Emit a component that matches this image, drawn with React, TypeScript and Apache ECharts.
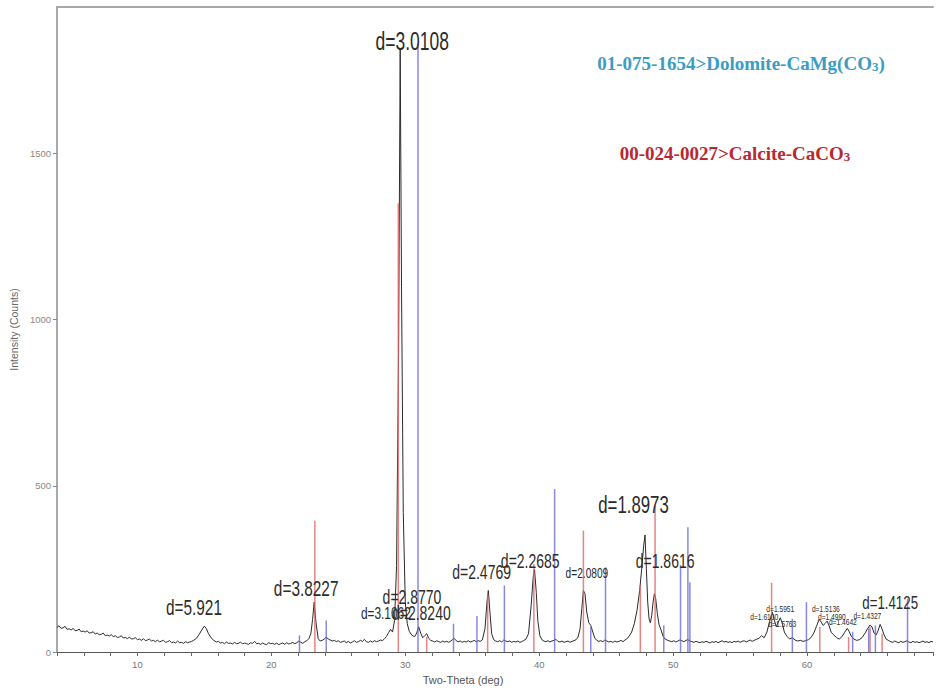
import React, { useEffect, useRef } from "react";
import * as echarts from "echarts";

// Measured XRD pattern: [2-theta (deg), intensity (counts)]
const spectrum: [number, number][] = [
  [4.0, 74], [4.15, 79], [4.3, 71], [4.45, 73], [4.6, 77], [4.75, 68], [4.9, 70], [5.05, 66], [5.2, 71], [5.35, 64],
  [5.5, 65], [5.65, 69], [5.8, 61], [5.95, 63], [6.1, 60], [6.25, 64], [6.4, 57], [6.55, 58], [6.7, 61], [6.85, 54],
  [7.0, 57], [7.15, 52], [7.3, 53], [7.45, 57], [7.6, 49], [7.75, 51], [7.9, 48], [8.05, 52], [8.2, 46], [8.35, 49],
  [8.5, 44], [8.65, 45], [8.8, 49], [8.95, 42], [9.1, 44], [9.25, 40], [9.4, 45], [9.55, 39], [9.7, 40], [9.85, 43],
  [10.0, 37], [10.15, 39], [10.3, 35], [10.45, 40], [10.6, 34], [10.75, 36], [10.9, 39], [11.05, 33], [11.2, 35], [11.35, 31],
  [11.5, 36], [11.65, 30], [11.8, 33], [11.95, 35], [12.1, 29], [12.25, 31], [12.4, 34], [12.55, 28], [12.7, 30], [12.85, 27],
  [13.0, 33], [13.15, 28], [13.3, 29], [13.45, 26], [13.6, 31], [13.75, 28], [13.9, 30], [14.05, 32], [14.2, 35], [14.4, 41],
  [14.6, 52], [14.8, 66], [15.0, 78], [15.15, 70], [15.3, 56], [15.5, 43], [15.7, 35], [15.9, 30], [16.05, 32], [16.2, 27],
  [16.35, 29], [16.5, 25], [16.65, 30], [16.8, 26], [16.95, 27], [17.1, 24], [17.25, 29], [17.4, 25], [17.55, 26], [17.7, 30],
  [17.85, 24], [18.0, 27], [18.15, 25], [18.3, 23], [18.45, 28], [18.6, 26], [18.75, 32], [18.9, 25], [19.05, 26], [19.2, 23],
  [19.35, 27], [19.5, 24], [19.65, 22], [19.8, 28], [19.95, 25], [20.1, 26], [20.25, 23], [20.4, 27], [20.55, 22], [20.7, 25],
  [20.85, 27], [21.0, 23], [21.15, 28], [21.3, 24], [21.45, 26], [21.6, 29], [21.75, 25], [21.9, 28], [22.05, 33], [22.2, 29],
  [22.35, 26], [22.5, 31], [22.65, 34], [22.8, 40], [22.95, 55], [23.08, 98], [23.2, 150], [23.33, 90], [23.5, 40], [23.65, 33],
  [23.8, 35], [23.95, 39], [24.1, 45], [24.25, 39], [24.4, 36], [24.55, 33], [24.7, 35], [24.85, 31], [25.0, 34], [25.15, 29],
  [25.3, 31], [25.45, 33], [25.6, 28], [25.75, 32], [25.9, 27], [26.05, 30], [26.2, 34], [26.35, 29], [26.5, 31], [26.65, 35],
  [26.8, 32], [26.95, 38], [27.1, 31], [27.25, 29], [27.4, 33], [27.55, 30], [27.7, 34], [27.85, 31], [28.0, 33], [28.15, 36],
  [28.3, 34], [28.45, 40], [28.6, 47], [28.75, 58], [28.9, 68], [29.05, 60], [29.2, 95], [29.35, 260], [29.5, 900], [29.62, 1811],
  [29.72, 1100], [29.85, 420], [30.0, 150], [30.15, 85], [30.3, 62], [30.5, 50], [30.7, 46], [30.85, 57], [31.0, 76], [31.15, 57],
  [31.3, 43], [31.45, 49], [31.6, 55], [31.75, 41], [31.9, 35], [32.05, 33], [32.2, 30], [32.35, 34], [32.5, 31], [32.65, 29],
  [32.8, 33], [32.95, 30], [33.1, 32], [33.25, 29], [33.4, 33], [33.55, 38], [33.65, 41], [33.8, 34], [33.95, 31], [34.1, 33],
  [34.25, 29], [34.4, 32], [34.55, 30], [34.7, 34], [34.85, 30], [35.0, 32], [35.15, 35], [35.3, 31], [35.45, 34], [35.6, 32],
  [35.75, 36], [35.95, 70], [36.1, 150], [36.2, 185], [36.32, 120], [36.45, 55], [36.6, 37], [36.75, 33], [36.9, 31], [37.05, 34],
  [37.2, 30], [37.35, 36], [37.5, 33], [37.65, 31], [37.8, 33], [37.95, 29], [38.1, 32], [38.25, 30], [38.4, 33], [38.55, 29],
  [38.7, 31], [38.85, 35], [39.0, 38], [39.2, 55], [39.4, 140], [39.55, 225], [39.65, 248], [39.78, 180], [39.9, 92], [40.05, 49],
  [40.2, 37], [40.35, 33], [40.5, 31], [40.65, 34], [40.8, 30], [40.95, 33], [41.1, 35], [41.25, 38], [41.4, 32], [41.55, 30],
  [41.7, 33], [41.85, 29], [42.0, 31], [42.15, 33], [42.3, 29], [42.45, 32], [42.6, 34], [42.75, 37], [42.9, 45], [43.05, 70],
  [43.18, 130], [43.3, 185], [43.42, 175], [43.55, 120], [43.7, 88], [43.85, 80], [44.0, 60], [44.15, 42], [44.3, 35], [44.45, 32],
  [44.6, 34], [44.75, 31], [44.9, 36], [45.05, 33], [45.2, 30], [45.35, 32], [45.5, 29], [45.65, 33], [45.8, 30], [45.95, 32],
  [46.1, 35], [46.25, 31], [46.4, 36], [46.55, 40], [46.7, 46], [46.9, 60], [47.1, 85], [47.3, 125], [47.5, 185], [47.65, 250],
  [47.8, 320], [47.9, 352], [48.0, 250], [48.1, 150], [48.2, 100], [48.3, 88], [48.4, 110], [48.5, 150], [48.6, 175], [48.7, 160],
  [48.82, 115], [48.95, 82], [49.1, 66], [49.25, 47], [49.4, 39], [49.6, 35], [49.75, 33], [49.9, 31], [50.05, 34], [50.2, 30],
  [50.35, 33], [50.5, 36], [50.65, 34], [50.8, 31], [50.95, 35], [51.1, 37], [51.25, 33], [51.4, 31], [51.55, 29], [51.7, 32],
  [51.85, 30], [52.0, 28], [52.15, 31], [52.3, 29], [52.45, 32], [52.6, 30], [52.75, 27], [52.9, 31], [53.05, 29], [53.2, 32],
  [53.35, 28], [53.5, 31], [53.65, 34], [53.8, 30], [53.95, 32], [54.1, 29], [54.25, 31], [54.4, 28], [54.55, 32], [54.7, 30],
  [54.85, 33], [55.0, 29], [55.15, 32], [55.3, 34], [55.45, 30], [55.6, 33], [55.75, 36], [55.9, 32], [56.05, 35], [56.2, 38],
  [56.4, 41], [56.6, 49], [56.8, 43], [57.0, 60], [57.2, 92], [57.4, 120], [57.55, 96], [57.7, 76], [57.85, 90], [58.0, 103],
  [58.15, 86], [58.3, 60], [58.5, 47], [58.7, 39], [58.9, 43], [59.1, 36], [59.3, 33], [59.5, 35], [59.7, 32], [59.9, 34],
  [60.1, 37], [60.3, 44], [60.5, 57], [60.7, 77], [60.9, 98], [61.05, 90], [61.2, 80], [61.35, 86], [61.5, 93], [61.65, 78],
  [61.8, 59], [62.0, 51], [62.2, 43], [62.4, 39], [62.6, 46], [62.8, 59], [63.0, 71], [63.15, 61], [63.3, 47], [63.5, 39],
  [63.7, 35], [63.9, 37], [64.1, 43], [64.3, 55], [64.5, 69], [64.7, 81], [64.85, 75], [65.0, 57], [65.15, 51], [65.3, 64],
  [65.45, 83], [65.6, 69], [65.75, 51], [65.9, 39], [66.1, 34], [66.25, 31], [66.4, 29], [66.55, 33], [66.7, 30], [66.85, 28],
  [67.0, 32], [67.15, 29], [67.3, 31], [67.45, 34], [67.6, 30], [67.75, 28], [67.9, 32], [68.05, 29], [68.2, 31], [68.35, 28],
  [68.5, 30], [68.65, 33], [68.8, 29], [68.95, 31], [69.1, 28], [69.25, 32], [69.4, 30]
];

// Reference pattern 00-024-0027 Calcite (red sticks): [2-theta, intensity]
const calciteSticks: [number, number][] = [
  [23.25, 395], [29.48, 1350], [31.6, 45], [36.15, 175], [39.6, 265], [43.3, 365],
  [47.55, 200], [48.65, 440], [57.35, 208], [60.95, 75], [63.1, 45], [64.7, 75], [65.6, 55]
];

// Reference pattern 01-075-1654 Dolomite (blue sticks): [2-theta, intensity]
const dolomiteSticks: [number, number][] = [
  [22.1, 50], [24.1, 95], [30.95, 1830], [33.6, 85], [35.35, 108], [37.4, 200],
  [41.15, 490], [43.85, 75], [44.95, 255], [49.3, 80], [50.55, 262], [51.1, 375],
  [51.25, 210], [58.9, 100], [59.95, 150], [63.4, 60], [64.6, 70], [65.1, 80], [67.5, 160]
];

// Peak annotations: text and anchor in data units
const peakLabels: { text: string; x: number; y: number }[] = [
  { text: "d=3.0108", x: 30.52, y: 1838 },
  { text: "d=5.921", x: 14.22, y: 135 },
  { text: "d=3.8227", x: 22.6, y: 192 },
  { text: "d=3.1062", x: 28.55, y: 117 },
  { text: "d=2.8770", x: 30.5, y: 165 },
  { text: "d=2.8240", x: 31.2, y: 117 },
  { text: "d=2.4769", x: 35.7, y: 240 },
  { text: "d=2.2685", x: 39.33, y: 275 },
  { text: "d=2.0809", x: 43.56, y: 237 },
  { text: "d=1.8973", x: 47.04, y: 445 },
  { text: "d=1.8616", x: 49.4, y: 275 },
  { text: "d=1.4125", x: 66.2, y: 150 },
  { text: "d=1.5951", x: 58.0, y: 129 },
  { text: "d=1.6100", x: 56.8, y: 105 },
  { text: "d=1.5763", x: 58.15, y: 84 },
  { text: "d=1.5136", x: 61.4, y: 129 },
  { text: "d=1.4990", x: 61.85, y: 105 },
  { text: "d=1.4642", x: 62.67, y: 90 },
  { text: "d=1.4327", x: 64.5, y: 108 }
];
const labelFontSizes = [25, 22, 22, 17, 20, 20, 20, 20, 14.5, 24, 20, 19, 9.5, 9.5, 9.5, 9.5, 9.5, 9.5, 9.5];

const yTicks = [0, 500, 1000, 1500];
const xAxisTitle = "Two-Theta (deg)";
const yAxisTitle = "Intensity (Counts)";

export default function App() {
  const ref = useRef<HTMLDivElement>(null);

  useEffect(() => {
    if (!ref.current) return;
    const chart = echarts.init(ref.current, null, { renderer: "svg" });
    const X_MIN = 4;
    const X_MAX = 69.4;
    const Y_MAX = 1940;

    const stickSeries = (name: string, data: [number, number][], color: string) => ({
      type: "custom",
      name,
      data,
      z: 5,
      silent: true,
      renderItem: (_params: any, api: any) => {
        const x = api.value(0);
        const y = api.value(1);
        const top = api.coord([x, y]);
        const base = api.coord([x, 0]);
        return {
          type: "line",
          shape: { x1: top[0], y1: base[1], x2: top[0], y2: top[1] },
          style: { stroke: color, lineWidth: 1.5, opacity: 0.8 }
        };
      }
    });

    const serif = "Liberation Serif, Times New Roman, serif";
    const sans = "Liberation Sans, Arial, sans-serif";

    const option: any = {
      animation: false,
      backgroundColor: "#ffffff",
      grid: { left: 53, right: 0, top: 7, bottom: 35, containLabel: false },
      xAxis: [
        {
          type: "value",
          min: X_MIN,
          max: X_MAX,
          interval: 2,
          name: xAxisTitle,
          nameLocation: "middle",
          nameGap: 22,
          nameTextStyle: { color: "#555", fontSize: 11, fontFamily: sans, padding: [0, 64, 0, 0] },
          axisLine: { show: true, onZero: false, lineStyle: { color: "#555", width: 1.2 } },
          axisTick: { show: true, length: 4, lineStyle: { color: "#666" } },
          axisLabel: {
            color: "#777",
            fontSize: 9.5,
            margin: 7,
            fontFamily: sans,
            formatter: (v: number) => (Math.abs(v % 10) < 1e-6 && v > X_MIN ? String(v) : "")
          },
          splitLine: { show: false }
        },
        {
          type: "value",
          position: "top",
          min: X_MIN,
          max: X_MAX,
          axisLine: { show: true, onZero: false, lineStyle: { color: "#a8a8a8", width: 2 } },
          axisTick: { show: false },
          axisLabel: { show: false },
          splitLine: { show: false }
        }
      ],
      yAxis: {
        type: "value",
        min: 0,
        max: Y_MAX,
        interval: 500,
        name: yAxisTitle,
        nameLocation: "middle",
        nameGap: 37,
        nameTextStyle: { color: "#666", fontSize: 10.5, fontFamily: sans },
        axisLine: { show: true, onZero: false, lineStyle: { color: "#aaaaaa", width: 2 } },
        axisTick: { show: true, length: 4, lineStyle: { color: "#888" } },
        axisLabel: {
          color: "#888",
          fontSize: 9.5,
          margin: 6,
          fontFamily: sans,
          showMaxLabel: false,
          formatter: (v: number) => (yTicks.includes(v) ? String(v) : "")
        },
        splitLine: { show: false }
      },
      graphic: [
        {
          type: "text",
          x: 741,
          y: 63,
          style: {
            text: "01-075-1654>Dolomite-CaMg(CO{s|3})",
            fill: "#3b9cc4",
            fontSize: 19,
            fontWeight: "bold",
            fontFamily: serif,
            align: "center",
            verticalAlign: "middle",
            rich: {
              s: { fontSize: 13, fontWeight: "bold", fill: "#3b9cc4", fontFamily: serif, verticalAlign: "bottom" }
            }
          }
        },
        {
          type: "text",
          x: 735,
          y: 153,
          style: {
            text: "00-024-0027>Calcite-CaCO{s|3}",
            fill: "#b8292f",
            fontSize: 19,
            fontWeight: "bold",
            fontFamily: serif,
            align: "center",
            verticalAlign: "middle",
            rich: {
              s: { fontSize: 13, fontWeight: "bold", fill: "#b8292f", fontFamily: serif, verticalAlign: "bottom" }
            }
          }
        }
      ],
      series: [
        {
          type: "line",
          name: "Pattern",
          data: spectrum,
          showSymbol: false,
          symbol: "none",
          z: 4,
          silent: true,
          lineStyle: { color: "#2a2a2a", width: 1 }
        },
        stickSeries("Calcite", calciteSticks, "#e06464"),
        stickSeries("Dolomite", dolomiteSticks, "#6a6ad8"),
        {
          type: "custom",
          name: "Labels",
          data: peakLabels.map((l) => [l.x, l.y]),
          z: 6,
          silent: true,
          clip: false,
          renderItem: (params: any, api: any) => {
            const p = api.coord([api.value(0), api.value(1)]);
            const l = peakLabels[params.dataIndex];
            return {
              type: "text",
              x: p[0],
              y: p[1],
              scaleX: 0.7,
              style: {
                text: l.text,
                fontSize: labelFontSizes[params.dataIndex],
                fontFamily: sans,
                fill: "#2b2b2b",
                align: "center",
                verticalAlign: "middle"
              }
            };
          }
        }
      ]
    };

    chart.setOption(option);
    return () => chart.dispose();
  }, []);

  return (
    <div
      ref={ref}
      style={{ position: "absolute", left: 0, top: 0, width: 936, height: 690, background: "#fff" }}
    />
  );
}
